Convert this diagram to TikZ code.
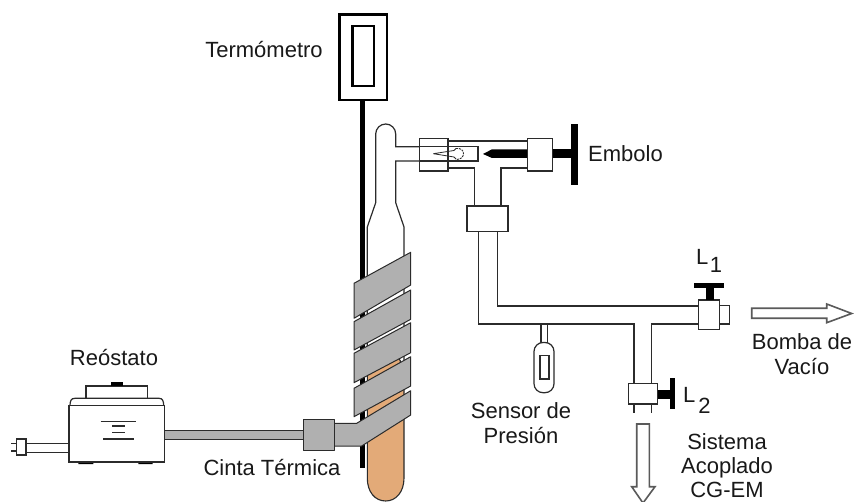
\documentclass[tikz,border=0pt]{standalone}
\usepackage{fontspec}
\setmainfont{Liberation Sans}
\definecolor{ink}{HTML}{2B2B2B}
\definecolor{tape}{HTML}{B0B0B0}
\definecolor{liquid}{HTML}{E3AA78}
\definecolor{arrowgray}{HTML}{5A5A5A}
\tikzset{
  wire/.style={draw=ink,line width=1.2pt},
  block/.style={draw=ink,line width=1.2pt,fill=white},
  band/.style={draw=ink,line width=1pt,fill=tape,line join=round},
  label/.style={font=\fontsize{22}{24}\selectfont,text=black!90,inner sep=0pt,align=center,anchor=center},
  hollow/.style={draw=arrowgray,line width=1.6pt,fill=white,line join=miter}
}
\begin{document}
\begin{tikzpicture}[x=1pt,y=-1pt]
\useasboundingbox (0,0) rectangle (856,502);
\fill[white] (0,0) rectangle (856,502);
% thermometer
\fill[black] (360,100) rectangle (365.4,468);
\draw[draw=black,line width=2.4pt,fill=white] (339.5,14.5) rectangle (387,100);
\draw[draw=black,line width=2.4pt,fill=white] (352.5,26) rectangle (374,86);
% glass body with liquid
\fill[white] (375.7,134) arc[start angle=180,end angle=360,radius=10] -- (395.7,202.7) -- (404,227) -- (404,478)
  .. controls (404,492) and (396,501) .. (385.7,501) .. controls (375,501) and (367.3,492) .. (367.3,478) -- (367.3,227) -- (375.7,202.7) -- cycle;
\draw[draw=ink,line width=1.1pt,fill=liquid] (367.3,372) -- (385,364) -- (396,358) .. controls (401,358) and (402,363) .. (398,366) -- (404,366) -- (404,478)
  .. controls (404,492) and (396,501) .. (385.7,501) .. controls (375,501) and (367.3,492) .. (367.3,478) -- cycle;
\draw[wire] (367.3,372) -- (367.3,227) -- (375.7,202.7) -- (375.7,134) arc[start angle=180,end angle=360,radius=10] -- (395.7,146.7) -- (419.3,146.7);
\draw[wire] (419.3,161) -- (395.7,161) -- (395.7,202.7) -- (404,227) -- (404,366);
% side arm, upper tubes
\draw[wire] (448,141) -- (527.3,141);
\draw[wire] (448,168) -- (474.3,168) -- (474.3,206);
\draw[wire] (527.3,168) -- (501,168) -- (501,206);
\draw[block] (419.3,138.3) rectangle (448,171);
\draw[wire] (419.3,146.7) -- (478,146.7) -- (478,161) -- (419.3,161);
% inner detail
\draw[draw=ink,line width=0.8pt] (433.3,153.7) -- (454,150.5) (433.3,153.7) -- (454,157);
\draw[draw=ink,line width=0.8pt] (454,150.5) -- (456,148.5) (454,157) -- (456,159);
\draw[draw=ink,line width=0.9pt,dash pattern=on 2pt off 1pt] (456,148.5) .. controls (466,147) and (466,160) .. (456,159.5);
% plunger
\fill[black] (527.3,149.3) -- (492,149.3) -- (483,154) -- (492,158) -- (527.3,158) -- cycle;
\fill[black] (552.7,149.3) rectangle (570.7,158);
\fill[black] (570.7,124) rectangle (578.3,185);
\draw[block] (527.3,138.3) rectangle (552.7,171);
% vacuum line
\draw[wire] (478.3,231.3) -- (478.3,324) -- (634,324) -- (634,383.3);
\draw[wire] (497.7,231.3) -- (497.7,306) -- (698.3,306);
\draw[wire] (698.3,324) -- (651.7,324) -- (651.7,383.3);
\draw[block] (467,206) rectangle (508,231.3);
% L1 valve
\draw[block] (719.7,305.7) rectangle (729.3,324);
\draw[block] (698.3,300) rectangle (719.7,329.3);
\fill[black] (706,288) rectangle (714.3,300);
\fill[black] (694,282.7) rectangle (724.3,288.5);
% L2 valve
\draw[block] (628.3,383.3) rectangle (657.7,404);
\fill[black] (657.7,390) rectangle (670.7,399.3);
\fill[black] (670,378) rectangle (675,409);
\draw[wire] (634,404) -- (634,413) (651.7,404) -- (651.7,413);
% sensor
\draw[wire] (541,324) -- (541,342.7) (547.7,324) -- (547.7,342.7);
\draw[block,rounded corners=9pt] (534,342.5) rectangle (554,392.7);
\draw[wire] (540,355.7) rectangle (549,379);
% hollow arrows
\draw[hollow] (751.7,308.3) -- (826.7,308.3) -- (826.7,304) -- (851.7,313.5) -- (826.7,322.7) -- (826.7,318.3) -- (751.7,318.3) -- cycle;
\draw[hollow] (636.7,424) -- (649.3,424) -- (649.3,486.7) -- (655,486.7) -- (643,503) -- (631.7,486.7) -- (636.7,486.7) -- cycle;
% heating tape
\draw[band] (354,283.3) -- (410.7,252.3) -- (410.7,285) -- (354,318.3) -- cycle;
\draw[band] (354,321.7) -- (410.7,290) -- (410.7,319.3) -- (354,350) -- cycle;
\draw[band] (354,353.3) -- (410.7,322.7) -- (410.7,352.7) -- (354,382.7) -- cycle;
\draw[band] (354,388.3) -- (410.7,356.7) -- (410.7,386) -- (354,416.7) -- cycle;
% cable, connector
\draw[draw=ink,line width=1pt,fill=tape] (164.7,430.7) rectangle (304,439.3);
\draw[band] (334,423.3) -- (356.7,423.3) -- (410.7,390.7) -- (410.7,415) -- (361.7,446) -- (334,446) -- cycle;
\draw[band] (303.3,419.3) rectangle (334,450.7);
% rheostat
\draw[wire] (26,443.3) -- (69,443.3) (26,452.3) -- (69,452.3);
\draw[wire] (11,443.3) -- (16.7,443.3) (11,451) -- (16.7,451);
\draw[block] (16.7,439) rectangle (26,455);
\draw[block] (86,386) rectangle (147.7,398.3);
\fill[black] (111,382.3) rectangle (122.7,386);
\fill[black] (78.3,461.5) rectangle (93.3,464) (138.3,461.5) rectangle (152.7,464);
\draw[wire] (70,405.7) .. controls (70,401) and (71,398.3) .. (75,398.3) -- (159,398.3) .. controls (162.5,398.3) and (163.7,401) .. (163.7,405.7);
\draw[block] (69,405.7) rectangle (164.7,462);
\draw[wire] (100.7,421.7) -- (136,421.7) (112,426) -- (124.7,426) (112,432.3) -- (124.7,432.3) (103.3,439) -- (134.3,439);
% labels
\node[label] (termo) at (264,50) {Termómetro};
\node[label,anchor=west] (embolo) at (588,154) {Embolo};
\node[label] (reo) at (114,358) {Reóstato};
\node[label] (cinta) at (272,468) {Cinta Térmica};
\node[label] (sensor) at (521,423) {Sensor de\\[1.5pt]Presión};
\node[label,anchor=west] (l1) at (696,261) {L\hspace{1.5pt}\raisebox{-8pt}{1}};
\node[label,anchor=west] (l2) at (683,400) {L\hspace{3pt}\raisebox{-11pt}{2}};
\node[label] (bomba) at (802,354) {Bomba de\\[1.5pt]Vacío};
\node[label] (sis) at (727,466) {Sistema\\[0pt]Acoplado\\[0pt]CG-EM};
\end{tikzpicture}
\end{document}
